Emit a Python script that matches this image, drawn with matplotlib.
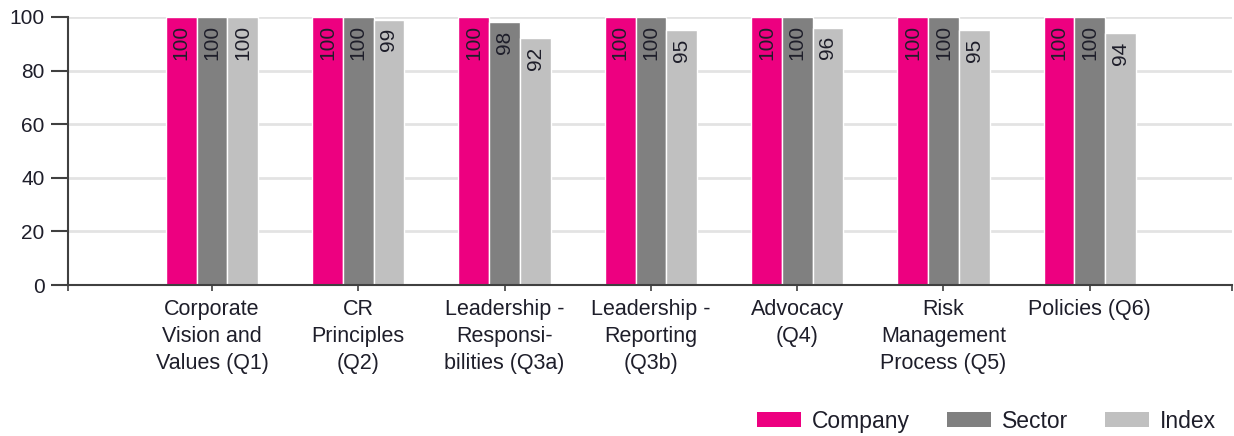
import matplotlib
matplotlib.use("Agg")
import matplotlib.pyplot as plt
import numpy as np

categories = ["Corporate\nVision and\nValues (Q1)", "CR\nPrinciples\n(Q2)",
              "Leadership -\nResponsi-\nbilities (Q3a)", "Leadership -\nReporting\n(Q3b)",
              "Advocacy\n(Q4)", "Risk\nManagement\nProcess (Q5)", "Policies (Q6)"]
company = [100, 100, 100, 100, 100, 100, 100]
sector = [100, 100, 98, 100, 100, 100, 100]
index = [100, 99, 92, 95, 96, 95, 94]
series_names = ["Company", "Sector", "Index"]
colors = ["#ED0080", "#808080", "#C0C0C0"]
yticks = [0, 20, 40, 60, 80, 100]

plt.rcParams['font.family'] = ['Liberation Sans', 'DejaVu Sans']
txt = "#1e1e2a"

fig = plt.figure(figsize=(12.34, 4.36), dpi=100)
ax = fig.add_axes([68/1234, 1-285/436, (1232-68)/1234, (285-17)/436])

x = np.arange(1, len(categories) + 1)
w = 0.21
for i, (vals, name, c) in enumerate(zip([company, sector, index], series_names, colors)):
    bars = ax.bar(x + (i - 1) * w, vals, w, color=c, edgecolor="white", linewidth=1,
                  label=name, zorder=2)
    for b, v in zip(bars, vals):
        ax.annotate(f"{v}", (b.get_x() + b.get_width()/2, v), xytext=(0, -6),
                    textcoords="offset points", rotation=90, ha="center", va="top",
                    fontsize=15, color=txt, zorder=3)

x0, x1 = 0.016, 7.972
ax.set_xlim(x0, x1)
ax.set_ylim(0, 100)
ax.set_yticks(yticks)
ax.set_yticklabels([str(t) for t in yticks], fontsize=15, color=txt)
ax.set_xticks([x0] + list(x) + [x1])
ax.set_xticklabels([""] + categories + [""], fontsize=15.5, color=txt, linespacing=1.38)
ax.tick_params(axis="y", length=12, width=1.5, color="#404040", pad=5)
ax.tick_params(axis="x", length=4, width=1.2, color="#404040", pad=6)
ax.yaxis.grid(True, color="#E3E3E3", linewidth=2, zorder=0)
ax.set_axisbelow(True)
for s in ["top", "right"]:
    ax.spines[s].set_visible(False)
for s in ["left", "bottom"]:
    ax.spines[s].set_color("#404040")
    ax.spines[s].set_linewidth(1.5)

leg = fig.legend(loc="center right", bbox_to_anchor=(1216/1234, 1-421/436), ncol=3, frameon=False,
                 fontsize=16.5, handlelength=1.92, handleheight=0.65, handletextpad=0.48,
                 columnspacing=1.6, borderaxespad=0, borderpad=0)
for t in leg.get_texts():
    t.set_color(txt)
for p in leg.get_patches():
    p.set_edgecolor("none")

fig.savefig("out.png", dpi=100)
